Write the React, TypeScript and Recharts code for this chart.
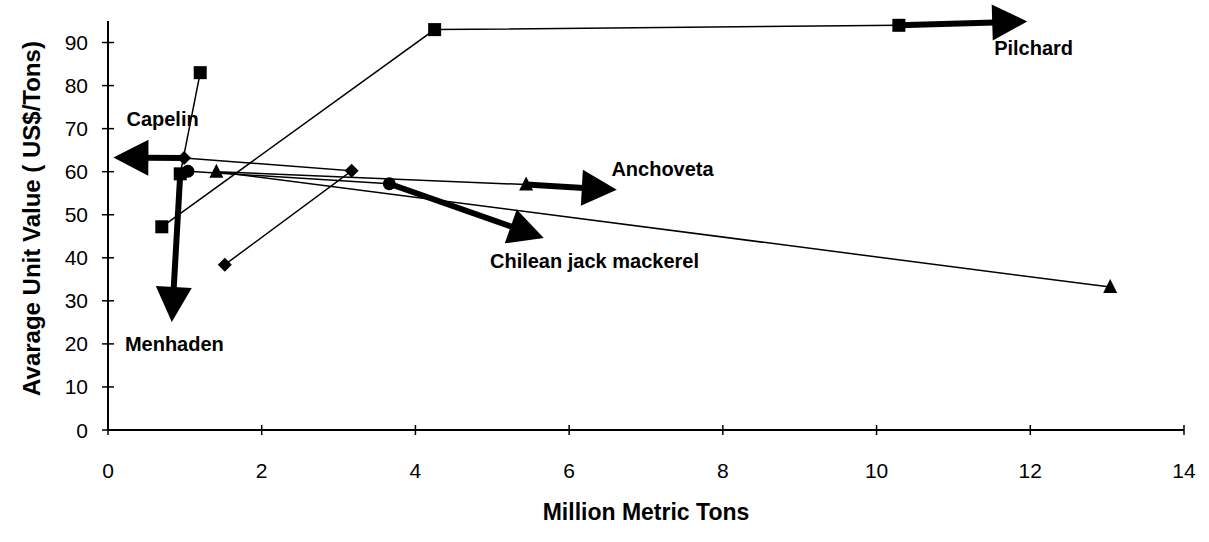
import React from "react";
import { ScatterChart, Scatter, XAxis, YAxis } from "recharts";

const FONT = "'Liberation Sans', Arial, Helvetica, sans-serif";

const xTicks = [0, 2, 4, 6, 8, 10, 12, 14];
const yTicks = [0, 10, 20, 30, 40, 50, 60, 70, 80, 90];

// trajectories in time order (million t, US$/t)
const capelin = [
  { x: 1.52, y: 38.4 },
  { x: 3.17, y: 60.2 },
  { x: 0.99, y: 63.2 },
];
const menhaden = [
  { x: 1.2, y: 83 },
  { x: 0.94, y: 59.5 },
];
const anchoveta = [
  { x: 13.04, y: 33.2 },
  { x: 1.41, y: 60 },
  { x: 5.44, y: 57 },
];
const jackMackerel = [
  { x: 1.04, y: 60.1 },
  { x: 3.66, y: 57.2 },
];
const pilchard = [
  { x: 0.7, y: 47.2 },
  { x: 4.25, y: 93 },
  { x: 10.29, y: 94 },
];

// where the trend arrows point to
const capelinTip = { x: 0.07, y: 63.3 };
const menhadenTip = { x: 0.83, y: 25.1 };
const anchovetaTip = { x: 6.62, y: 55.8 };
const jackMackerelTip = { x: 5.67, y: 44.6 };
const pilchardTip = { x: 11.96, y: 94.9 };

const labels = [
  { name: "Capelin", x: 0.24, y: 70.5 },
  { name: "Menhaden", x: 0.22, y: 18.4 },
  { name: "Anchoveta", x: 6.55, y: 59 },
  { name: "Chilean jack mackerel", x: 4.97, y: 37.7 },
  { name: "Pilchard", x: 11.53, y: 87 },
];

const last = (arr: { x: number; y: number }[]) => arr[arr.length - 1];

const Square = (p: any) => (
  <rect x={p.cx - 6.5} y={p.cy - 6.5} width={13} height={13} fill="#000" />
);
const Diamond = (p: any) => (
  <polygon
    points={`${p.cx},${p.cy - 7} ${p.cx + 7},${p.cy} ${p.cx},${p.cy + 7} ${p.cx - 7},${p.cy}`}
    fill="#000"
  />
);
const Triangle = (p: any) => (
  <polygon
    points={`${p.cx},${p.cy - 8} ${p.cx + 7},${p.cy + 6} ${p.cx - 7},${p.cy + 6}`}
    fill="#000"
  />
);
const Dot = (p: any) => <circle cx={p.cx} cy={p.cy} r={6.5} fill="#000" />;
const NoMark = () => <g />;

function arrowLine(p: any) {
  const pts = p.points;
  if (!pts || pts.length < 2) return <g />;
  const a = pts[0];
  const b = pts[pts.length - 1];
  const len = Math.hypot(b.x - a.x, b.y - a.y) || 1;
  const ux = (b.x - a.x) / len;
  const uy = (b.y - a.y) / len;
  const head = 35;
  const half = 18;
  const bx = b.x - ux * head;
  const by = b.y - uy * head;
  return (
    <g>
      <line x1={a.x} y1={a.y} x2={bx + ux * 2} y2={by + uy * 2} stroke="#000" strokeWidth={6} />
      <polygon
        points={`${b.x},${b.y} ${bx - uy * half},${by + ux * half} ${bx + uy * half},${by - ux * half}`}
        fill="#000"
      />
    </g>
  );
}

const LabelText = (p: any) => (
  <text x={p.cx} y={p.cy} fontFamily={FONT} fontWeight="bold" fontSize={20} fill="#000">
    {p.payload.name}
  </text>
);

const XTick = (p: any) => (
  <g>
    <line x1={p.x} x2={p.x} y1={p.y - 5} y2={p.y + 5} stroke="#000" strokeWidth={1.5} />
    <text x={p.x} y={p.y + 48} textAnchor="middle" fontFamily={FONT} fontSize={21} fill="#000">
      {p.payload.value}
    </text>
  </g>
);

const YTick = (p: any) => (
  <g>
    <line x1={p.x - 6} x2={p.x + 6} y1={p.y} y2={p.y} stroke="#000" strokeWidth={1.5} />
    <text x={p.x - 20} y={p.y + 7.5} textAnchor="end" fontFamily={FONT} fontSize={21} fill="#000">
      {p.payload.value}
    </text>
  </g>
);

const thin = { stroke: "#000", strokeWidth: 1.5 };

export default function App() {
  return (
    <div style={{ position: "absolute", left: 0, top: 0, background: "#fff" }}>
      <ScatterChart width={1209} height={542} margin={{ top: 21, right: 25, bottom: 0, left: 0 }}>
        <XAxis
          type="number"
          dataKey="x"
          domain={[0, 14]}
          ticks={xTicks}
          interval={0}
          height={112}
          tickSize={0}
          tickMargin={0}
          tickLine={false}
          tick={XTick}
          axisLine={{ stroke: "#000", strokeWidth: 2 }}
          label={{
            content: (lp: any) => {
              const vb = lp.viewBox;
              return (
                <text
                  x={vb.x + vb.width / 2}
                  y={vb.y + 90}
                  textAnchor="middle"
                  fontFamily={FONT}
                  fontWeight="bold"
                  fontSize={23}
                  fill="#000"
                >
                  Million Metric Tons
                </text>
              );
            },
          }}
        />
        <YAxis
          type="number"
          dataKey="y"
          domain={[0, 95]}
          ticks={yTicks}
          interval={0}
          width={108}
          tickSize={0}
          tickMargin={0}
          tickLine={false}
          tick={YTick}
          axisLine={{ stroke: "#000", strokeWidth: 2 }}
          label={{
            content: (lp: any) => {
              const vb = lp.viewBox;
              const cx = vb.x + 32;
              const cy = vb.y + vb.height / 2 - 7;
              return (
                <text
                  transform={`translate(${cx},${cy}) rotate(-90)`}
                  textAnchor="middle"
                  dy="0.35em"
                  fontFamily={FONT}
                  fontWeight="bold"
                  fontSize={24}
                  fill="#000"
                >
                  Avarage Unit Value ( US$/Tons)
                </text>
              );
            },
          }}
        />

        {/* trend arrows */}
        <Scatter data={[last(capelin), capelinTip]} line={arrowLine} lineType="joint" shape={NoMark} isAnimationActive={false} />
        <Scatter data={[last(menhaden), menhadenTip]} line={arrowLine} lineType="joint" shape={NoMark} isAnimationActive={false} />
        <Scatter data={[last(anchoveta), anchovetaTip]} line={arrowLine} lineType="joint" shape={NoMark} isAnimationActive={false} />
        <Scatter data={[last(jackMackerel), jackMackerelTip]} line={arrowLine} lineType="joint" shape={NoMark} isAnimationActive={false} />
        <Scatter data={[last(pilchard), pilchardTip]} line={arrowLine} lineType="joint" shape={NoMark} isAnimationActive={false} />

        {/* species paths */}
        <Scatter data={capelin} line={thin} lineType="joint" shape={Diamond} isAnimationActive={false} />
        <Scatter data={menhaden} line={thin} lineType="joint" shape={Square} isAnimationActive={false} />
        <Scatter data={anchoveta} line={thin} lineType="joint" shape={Triangle} isAnimationActive={false} />
        <Scatter data={jackMackerel} line={thin} lineType="joint" shape={Dot} isAnimationActive={false} />
        <Scatter data={pilchard} line={thin} lineType="joint" shape={Square} isAnimationActive={false} />

        <Scatter data={labels} shape={LabelText} isAnimationActive={false} />
      </ScatterChart>
    </div>
  );
}
